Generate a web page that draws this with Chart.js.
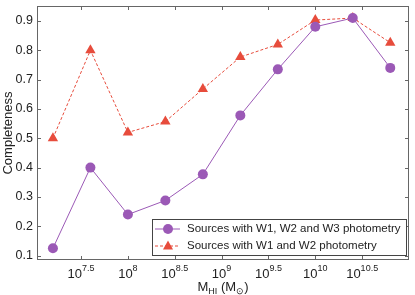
<!DOCTYPE html>
<html>
<head>
<meta charset="utf-8">
<script src="https://cdn.jsdelivr.net/npm/chart.js@4.4.0/dist/chart.umd.min.js"></script>
<style>
  html, body { margin: 0; padding: 0; background: #fff; }
  #wrap { width: 415px; height: 295px; }
</style>
</head>
<body>
<div id="wrap"><canvas id="chart" width="415" height="295"></canvas></div>
<script>
// datos (log10 de la masa HI)
var logMasa = [7.2, 7.6, 8.0, 8.4, 8.8, 9.2, 9.6, 10.0, 10.4, 10.8];
var completW123 = [0.125, 0.40, 0.24, 0.288, 0.377, 0.578, 0.735, 0.88, 0.91, 0.74];
var completW12 = [0.50, 0.80, 0.52, 0.557, 0.668, 0.777, 0.82, 0.903, 0.91, 0.826];

// ticks
var ticksX = [7.5, 8, 8.5, 9, 9.5, 10, 10.5];
var ticksY = [0.1, 0.2, 0.3, 0.4, 0.5, 0.6, 0.7, 0.8, 0.9];

var etiquetas = ['Sources with W1, W2 and W3 photometry', 'Sources with W1 and W2 photometry'];

var morado = 'rgb(155,89,182)';
var rojo = 'rgb(231,76,60)';
var fuente = '"Liberation Sans", Arial, sans-serif';

function puntos(ys) {
    return logMasa.map(function (x, i) { return { x: x, y: ys[i] }; });
}

// plugin para ejes, ticks y leyenda
var ejesPlugin = {
    id: 'ejes',
    afterDraw: function (chart) {
        var ctx = chart.ctx;
        var a = chart.chartArea;
        var sx = chart.scales.x;
        var sy = chart.scales.y;
        ctx.save();

        // marco
        ctx.strokeStyle = '#666';
        ctx.lineWidth = 1;
        ctx.strokeRect(a.left + 0.5, a.top + 0.5, a.right - a.left - 1, a.bottom - a.top - 1);

        // ticks hacia dentro
        ctx.beginPath();
        ticksX.forEach(function (t) {
            var px = Math.round(sx.getPixelForValue(t)) + 0.5;
            ctx.moveTo(px, a.bottom); ctx.lineTo(px, a.bottom - 4);
            ctx.moveTo(px, a.top); ctx.lineTo(px, a.top + 4);
        });
        ticksY.forEach(function (t) {
            var py = Math.round(sy.getPixelForValue(t)) + 0.5;
            ctx.moveTo(a.left, py); ctx.lineTo(a.left + 4, py);
            ctx.moveTo(a.right, py); ctx.lineTo(a.right - 4, py);
        });
        ctx.stroke();

        // etiquetas eje Y
        ctx.fillStyle = '#222';
        ctx.font = '12.5px ' + fuente;
        ctx.textAlign = 'right';
        ctx.textBaseline = 'middle';
        ticksY.forEach(function (t) {
            ctx.fillText(t.toFixed(1), a.left - 4, sy.getPixelForValue(t));
        });

        // etiquetas eje X (10^x)
        ctx.textBaseline = 'alphabetic';
        ticksX.forEach(function (t) {
            var px = sx.getPixelForValue(t);
            var exp = String(t);
            ctx.font = '13px ' + fuente;
            var wb = ctx.measureText('10').width;
            ctx.font = '9px ' + fuente;
            var we = ctx.measureText(exp).width;
            var x0 = px - (wb + we) / 2;
            ctx.textAlign = 'left';
            ctx.font = '13px ' + fuente;
            ctx.fillText('10', x0, a.bottom + 18);
            ctx.font = '9px ' + fuente;
            ctx.fillText(exp, x0 + wb, a.bottom + 11);
        });

        // titulo eje X: M_HI (M_sun)
        var cx = (a.left + a.right) / 2;
        var yb = a.bottom + 31;
        ctx.font = '13px ' + fuente;
        var w1 = ctx.measureText('M').width;
        ctx.font = '9px ' + fuente;
        var w2 = ctx.measureText('HI').width;
        ctx.font = '13px ' + fuente;
        var w3 = ctx.measureText(' (M').width;
        ctx.font = '9px ' + fuente;
        var w4 = ctx.measureText('\u2299').width;
        ctx.font = '13px ' + fuente;
        var w5 = ctx.measureText(')').width;
        var x = cx - (w1 + w2 + w3 + w4 + w5) / 2;
        ctx.fillText('M', x, yb); x += w1;
        ctx.font = '9px ' + fuente;
        ctx.fillText('HI', x, yb + 3); x += w2;
        ctx.font = '13px ' + fuente;
        ctx.fillText(' (M', x, yb); x += w3;
        ctx.font = '9px ' + fuente;
        ctx.fillText('\u2299', x, yb + 3); x += w4;
        ctx.font = '13px ' + fuente;
        ctx.fillText(')', x, yb);

        // titulo eje Y
        ctx.save();
        ctx.translate(8, (a.top + a.bottom) / 2);
        ctx.rotate(-Math.PI / 2);
        ctx.textAlign = 'center';
        ctx.textBaseline = 'middle';
        ctx.font = '13px ' + fuente;
        ctx.fillText('Completeness', 0, 0);
        ctx.restore();

        // leyenda
        var lx = 152, ly = 219, lw = 254, lh = 36;
        ctx.fillStyle = '#fff';
        ctx.fillRect(lx, ly, lw, lh);
        ctx.strokeStyle = '#444';
        ctx.strokeRect(lx + 0.5, ly + 0.5, lw, lh);
        var filas = [ly + 10, ly + 27];
        // fila 1
        ctx.strokeStyle = morado;
        ctx.lineWidth = 1;
        ctx.setLineDash([]);
        ctx.beginPath(); ctx.moveTo(155, filas[0]); ctx.lineTo(180, filas[0]); ctx.stroke();
        ctx.fillStyle = morado;
        ctx.beginPath(); ctx.arc(168, filas[0], 5, 0, Math.PI * 2); ctx.fill();
        // fila 2
        ctx.strokeStyle = rojo;
        ctx.setLineDash([3, 2]);
        ctx.beginPath(); ctx.moveTo(155, filas[1]); ctx.lineTo(180, filas[1]); ctx.stroke();
        ctx.setLineDash([]);
        ctx.fillStyle = rojo;
        ctx.beginPath();
        ctx.moveTo(168, filas[1] - 5.5); ctx.lineTo(173, filas[1] + 3.5); ctx.lineTo(163, filas[1] + 3.5);
        ctx.closePath(); ctx.fill();

        ctx.fillStyle = '#222';
        ctx.font = '11.5px ' + fuente;
        ctx.textAlign = 'left';
        ctx.textBaseline = 'middle';
        ctx.fillText(etiquetas[0], 187, filas[0]);
        ctx.fillText(etiquetas[1], 187, filas[1]);

        ctx.restore();
    }
};

var ctx = document.getElementById('chart').getContext('2d');

// el primer dataset se dibuja encima
var grafico = new Chart(ctx, {
    type: 'line',
    data: {
        datasets: [{
            label: etiquetas[0],
            data: puntos(completW123),
            borderColor: morado,
            backgroundColor: morado,
            borderWidth: 1,
            pointStyle: 'circle',
            pointRadius: 5,
            pointBorderWidth: 0,
            tension: 0
        }, {
            label: etiquetas[1],
            data: puntos(completW12),
            borderColor: rojo,
            backgroundColor: rojo,
            borderWidth: 1,
            borderDash: [3, 2],
            pointStyle: 'triangle',
            pointRadius: 6,
            pointBorderWidth: 0,
            tension: 0
        }]
    },
    options: {
        responsive: false,
        animation: false,
        layout: { padding: { left: 37, right: 3, top: 4, bottom: 35 } },
        plugins: { legend: { display: false }, tooltip: { enabled: false } },
        scales: {
            x: { type: 'linear', min: 7.03, max: 11.0, display: false },
            y: { type: 'linear', min: 0.085, max: 0.951, display: false }
        }
    },
    plugins: [ejesPlugin]
});
</script>
</body>
</html>
